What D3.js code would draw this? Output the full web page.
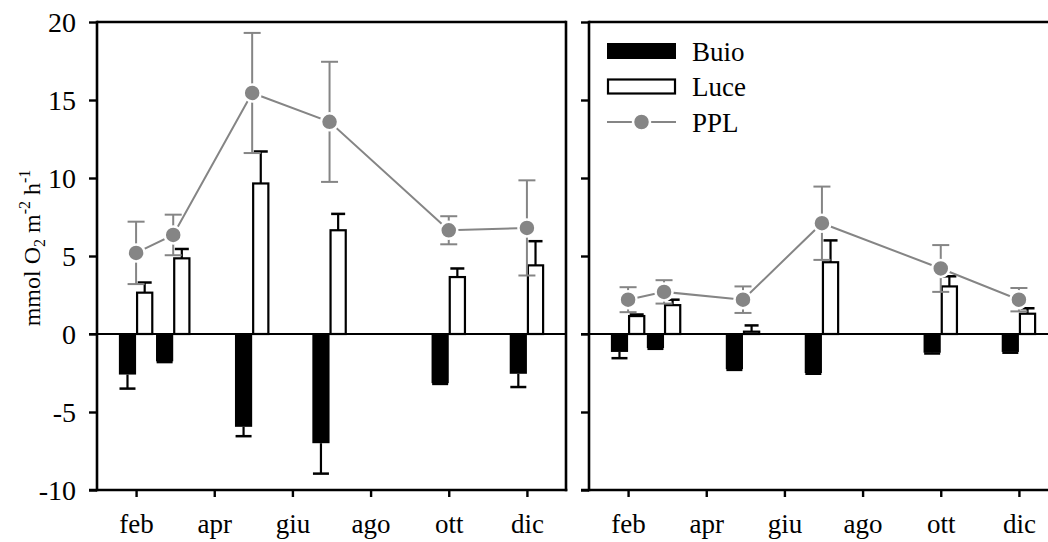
<!DOCTYPE html>
<html><head><meta charset="utf-8">
<script src="https://cdn.jsdelivr.net/npm/d3@7"></script>
<style>body{margin:0;background:#fff}svg{display:block}text{font-family:"Liberation Serif","Times New Roman",serif;fill:#000}</style>
</head><body><svg id="c" width="1048" height="542"></svg>
<script>
const monthTicks = [2, 4, 6, 8, 10, 12];
const monthLabels = ["feb", "apr", "giu", "ago", "ott", "dic"];
const yTicks = [-10, -5, 0, 5, 10, 15, 20];

// Left panel
const leftDates = [2.0, 2.95, 4.97, 6.95, 10.0, 12.0];
const leftBuio = [-2.6, -1.75, -5.95, -7.0, -3.15, -2.55];
const leftBuioErr = [0.9, 0.05, 0.6, 1.95, 0.05, 0.85];
const leftLuce = [2.65, 4.85, 9.65, 6.65, 3.65, 4.4];
const leftLuceErr = [0.65, 0.6, 2.05, 1.05, 0.55, 1.55];
const leftPPL = [5.2, 6.35, 15.45, 13.6, 6.65, 6.8];
const leftPPLErr = [2.0, 1.3, 3.85, 3.85, 0.9, 3.05];

// Right panel
const rightDates = [2.0, 2.92, 4.94, 6.96, 10.0, 12.0];
const rightBuio = [-1.15, -0.9, -2.25, -2.5, -1.2, -1.15];
const rightBuioErr = [0.4, 0.05, 0.05, 0.05, 0.05, 0.05];
const rightLuce = [1.15, 1.85, 0.15, 4.6, 3.05, 1.3];
const rightLuceErr = [0.1, 0.35, 0.4, 1.4, 0.65, 0.35];
const rightPPL = [2.2, 2.7, 2.2, 7.1, 4.2, 2.2];
const rightPPLErr = [0.8, 0.75, 0.85, 2.35, 1.5, 0.75];

const legendItems = ["Buio", "Luce", "PPL"];

const svg = d3.select("#c");
const GRAY = "#858585";
const FONT = "'Liberation Serif', 'Times New Roman', serif";
const barW = 0.44; // in months
const y = d3.scaleLinear().domain([-10, 20]).range([490, 22]);

function panel(x0, x1, data, showYLabels, showRight) {
  const x = d3.scaleLinear().domain([1, 13]).range([x0, x1]);
  const g = svg.append("g");
  const n = data.dates.length;
  const idx = d3.range(n);
  const bw = x(1 + barW) - x(1);

  // error bars of the bars (black, away from zero)
  idx.forEach(i => {
    const cx = x(data.dates[i]) + bw / 2;
    const v = data.luce[i], e = data.luceErr[i];
    g.append("line").attr("x1", cx).attr("x2", cx).attr("y1", y(v)).attr("y2", y(v + e))
      .attr("stroke", "#000").attr("stroke-width", 2.2);
    g.append("line").attr("x1", cx - 7).attr("x2", cx + 7).attr("y1", y(v + e)).attr("y2", y(v + e))
      .attr("stroke", "#000").attr("stroke-width", 2.5);
    const bx = x(data.dates[i]) - bw / 2;
    const bv = data.buio[i], be = data.buioErr[i];
    g.append("line").attr("x1", bx).attr("x2", bx).attr("y1", y(bv)).attr("y2", y(bv - be))
      .attr("stroke", "#000").attr("stroke-width", 2.2);
    g.append("line").attr("x1", bx - 8).attr("x2", bx + 8).attr("y1", y(bv - be)).attr("y2", y(bv - be))
      .attr("stroke", "#000").attr("stroke-width", 2.5);
  });
  // Buio bars
  g.selectAll(null).data(idx).enter().append("rect")
    .attr("x", i => x(data.dates[i]) - bw)
    .attr("y", y(0))
    .attr("width", bw)
    .attr("height", i => y(data.buio[i]) - y(0))
    .attr("fill", "#000");
  // Luce bars
  g.selectAll(null).data(idx).enter().append("rect")
    .attr("x", i => x(data.dates[i]) + 1)
    .attr("y", i => y(data.luce[i]))
    .attr("width", bw - 2)
    .attr("height", i => y(0) - y(data.luce[i]))
    .attr("fill", "#fff").attr("stroke", "#000").attr("stroke-width", 2.2);

  // zero line
  g.append("line").attr("x1", x0 - 8).attr("x2", x1).attr("y1", y(0)).attr("y2", y(0))
    .attr("stroke", "#000").attr("stroke-width", 2.2);

  // PPL line
  const line = d3.line().x(i => x(data.dates[i])).y(i => y(data.ppl[i]));
  g.append("path").datum(idx).attr("d", line).attr("fill", "none")
    .attr("stroke", GRAY).attr("stroke-width", 2);
  // PPL errors
  idx.forEach(i => {
    const cx = x(data.dates[i]);
    const v = data.ppl[i], e = data.pplErr[i];
    g.append("line").attr("x1", cx).attr("x2", cx).attr("y1", y(v - e)).attr("y2", y(v + e))
      .attr("stroke", GRAY).attr("stroke-width", 2);
    [v - e, v + e].forEach(w => g.append("line").attr("x1", cx - 8.5).attr("x2", cx + 8.5)
      .attr("y1", y(w)).attr("y2", y(w)).attr("stroke", GRAY).attr("stroke-width", 2));
  });
  g.selectAll(null).data(idx).enter().append("circle")
    .attr("cx", i => x(data.dates[i])).attr("cy", i => y(data.ppl[i])).attr("r", 8.5)
    .attr("fill", GRAY).attr("stroke", "#fff").attr("stroke-width", 2.5);

  // frame
  const fr = g.append("g").attr("stroke", "#000").attr("stroke-width", 2.6).attr("fill", "none");
  fr.append("line").attr("x1", x0).attr("x2", x1).attr("y1", y(20)).attr("y2", y(20));
  fr.append("line").attr("x1", x0 - 8).attr("x2", x1 + 1.3).attr("y1", y(-10)).attr("y2", y(-10));
  fr.append("line").attr("x1", x0).attr("x2", x0).attr("y1", y(20) - 1.3).attr("y2", y(-10) + 1.3);
  if (showRight) fr.append("line").attr("x1", x1).attr("x2", x1).attr("y1", y(20) - 1.3).attr("y2", y(-10) + 1.3);

  // axes
  const yAxis = d3.axisLeft(y).tickValues(yTicks).tickSize(8).tickPadding(13)
    .tickFormat(showYLabels ? (d => String(d)) : () => "");
  const ya = g.append("g").attr("transform", `translate(${x0},0)`).call(yAxis);
  ya.select(".domain").remove();
  ya.selectAll("line").attr("stroke", "#000").attr("stroke-width", 2.4);
  ya.selectAll("text").attr("font-size", 28).attr("dy", "0.34em")
    .style("font-family", FONT);

  const xAxis = d3.axisBottom(x).tickValues(monthTicks).tickSize(7).tickPadding(17)
    .tickFormat((d, i) => monthLabels[i]);
  const xa = g.append("g").attr("transform", `translate(0,${y(-10)})`).call(xAxis);
  xa.select(".domain").remove();
  xa.selectAll("line").attr("stroke", "#000").attr("stroke-width", 2.4);
  xa.selectAll("text").attr("font-size", 27)
    .style("font-family", FONT);
  return x;
}

panel(97, 566, {dates: leftDates, buio: leftBuio, buioErr: leftBuioErr, luce: leftLuce,
  luceErr: leftLuceErr, ppl: leftPPL, pplErr: leftPPLErr}, true, true);
panel(589, 1058, {dates: rightDates, buio: rightBuio, buioErr: rightBuioErr, luce: rightLuce,
  luceErr: rightLuceErr, ppl: rightPPL, pplErr: rightPPLErr}, false, false);

// Y label
const yl = svg.append("text").attr("transform", "translate(40,248) rotate(-90)")
  .attr("text-anchor", "middle").attr("font-size", 24);
yl.append("tspan").text("mmol O");
yl.append("tspan").attr("font-size", 16).attr("dy", 5).text("2");
yl.append("tspan").attr("dy", -5).text(" m");
yl.append("tspan").attr("font-size", 16).attr("dy", -10).text("-2");
yl.append("tspan").attr("dy", 10).text(" h");
yl.append("tspan").attr("font-size", 16).attr("dy", -10).text("-1");

// Legend
const lg = svg.append("g");
const ly = [51, 86.5, 122];
const lx0 = 607, lx1 = 676;
lg.append("rect").attr("x", lx0).attr("y", ly[0] - 8).attr("width", lx1 - lx0).attr("height", 16).attr("fill", "#000");
lg.append("rect").attr("x", lx0 + 1).attr("y", ly[1] - 7).attr("width", lx1 - lx0 - 2).attr("height", 14)
  .attr("fill", "#fff").attr("stroke", "#000").attr("stroke-width", 2.2);
lg.append("line").attr("x1", lx0).attr("x2", lx1).attr("y1", ly[2]).attr("y2", ly[2]).attr("stroke", GRAY).attr("stroke-width", 2);
lg.append("circle").attr("cx", (lx0 + lx1) / 2).attr("cy", ly[2]).attr("r", 8.5).attr("fill", GRAY)
  .attr("stroke", "#fff").attr("stroke-width", 2.5);
lg.selectAll(null).data(legendItems).enter().append("text")
  .attr("x", 692).attr("y", (d, i) => ly[i] + 9.5).attr("font-size", 27).text(d => d);
</script></body></html>
